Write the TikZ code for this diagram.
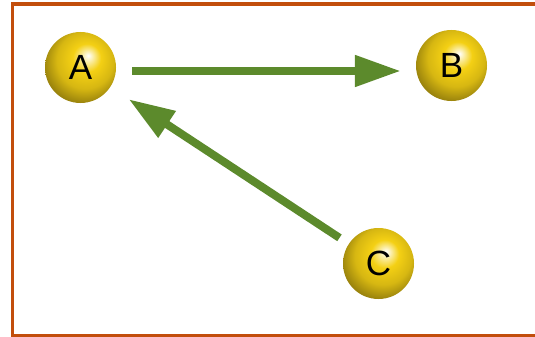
\documentclass[tikz,border=0pt]{standalone}
\usepackage{fontspec}
\setmainfont{Liberation Sans}
\usetikzlibrary{arrows.meta}
\definecolor{framecol}{HTML}{C24E0C}
\definecolor{arrowcol}{HTML}{5C8A2C}
\definecolor{ballcol}{HTML}{F4D014}
\pgfdeclareradialshading{goldball}{\pgfqpoint{5.5bp}{8.5bp}}{%
  color(0bp)=(white);
  color(3bp)=(ballcol!30!white);
  color(10bp)=(ballcol);
  color(20bp)=(ballcol!88!black);
  color(28bp)=(ballcol!65!black);
  color(35bp)=(ballcol!50!black);
  color(50bp)=(ballcol!50!black)}
\begin{document}
\begin{tikzpicture}[x=1pt,y=-1pt,
  ball/.style={circle, minimum size=71pt, inner sep=0pt, shading=goldball, font=\fontsize{35}{35}\selectfont, text=black},
  link/.style={draw=arrowcol, line width=8pt, -{Triangle[length=46pt,width=30pt]}}]
\useasboundingbox (0,0) rectangle (535,337);
\draw[framecol, line width=3.5pt] (12.7,4) rectangle (545,335.5);
\node[ball] (A) at (80.5,67.5) {A};
\node[ball] (B) at (451.5,65.5) {B};
\node[ball] (C) at (378.5,263.5) {C};
\draw[link, shorten <=16pt, shorten >=15pt] (A.east |- 0,71) -- (B.west |- 0,71);
\draw[link, shorten <=11pt, shorten >=22pt] (C) -- (A);
\end{tikzpicture}
\end{document}
